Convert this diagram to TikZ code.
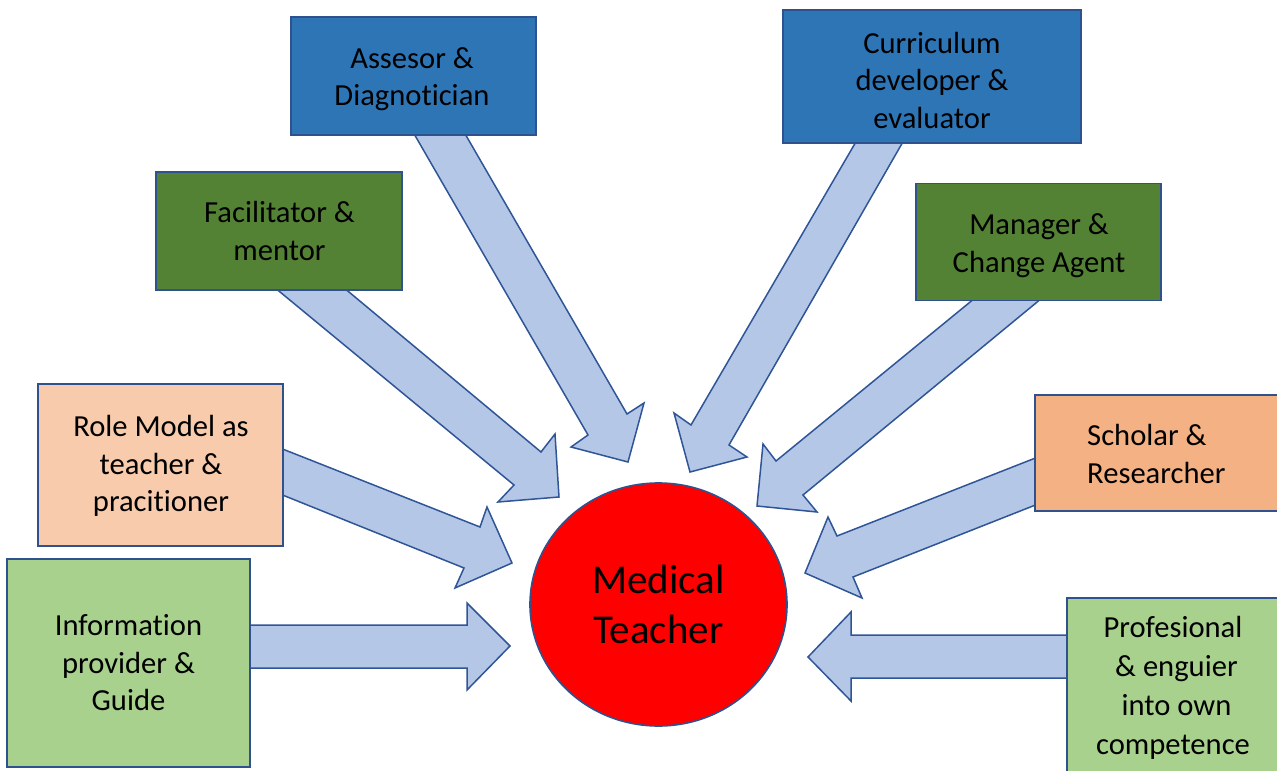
\documentclass[tikz,border=0pt]{standalone}
\usepackage{fontspec}
\setmainfont{Carlito}[Ligatures=NoCommon]
\usetikzlibrary{shapes.geometric}
\definecolor{boxblue}{HTML}{2E75B6}
\definecolor{boxgreen}{HTML}{548235}
\definecolor{boxpeach}{HTML}{F8CBAD}
\definecolor{boxorange}{HTML}{F4B183}
\definecolor{boxlight}{HTML}{A9D18E}
\definecolor{arrowfill}{HTML}{B4C7E7}
\definecolor{edgeblue}{HTML}{2F528F}
\definecolor{arrowedge}{HTML}{2F5597}
\tikzset{
  rolebox/.style={draw=edgeblue, line width=1.6bp, inner sep=0pt, outer sep=0pt},
  roletext/.style={inner sep=0pt, align=center, font=\fontsize{30.6bp}{37.5bp}\selectfont},
  blockarrow/.style={draw=arrowedge, fill=arrowfill, line width=1.5bp, line join=miter},
}
\begin{document}
\begin{tikzpicture}[x=1bp, y=-1bp]
\useasboundingbox (0,0) rectangle (1277,771);
% block arrows
\draw[blockarrow] (413,132) -- (588,435) -- (571,447) -- (628,462) -- (644,403) -- (627,414) -- (464,132) -- cycle;
\draw[blockarrow] (274,287) -- (514,485) -- (498,502) -- (559,497) -- (555,434) -- (541,452) -- (343,287) -- cycle;
\draw[blockarrow] (280,448) -- (480,527) -- (487,507) -- (512,563) -- (455,588) -- (464,568) -- (280,494) -- cycle;
\draw[blockarrow] (247,625) -- (467,625) -- (467,603) -- (510,646) -- (467,690) -- (467,668) -- (247,668) -- cycle;
\draw[blockarrow] (857,140) -- (691,425) -- (674,413) -- (690,472) -- (747,457) -- (729,445) -- (904,140) -- cycle;
\draw[blockarrow] (975,298) -- (776,461) -- (763,444) -- (757,506) -- (817,512) -- (803,495) -- (1042,298) -- cycle;
\draw[blockarrow] (1038,457) -- (837,536) -- (828,517) -- (805,573) -- (862,598) -- (853,577) -- (1038,504) -- cycle;
\draw[blockarrow] (1070,635) -- (851,635) -- (851,612) -- (808,657) -- (851,701) -- (851,678) -- (1070,678) -- cycle;
% boxes
\node[rolebox, fill=boxblue, minimum width=245bp, minimum height=118bp] (assess) at (413.5,76) {};
\node[roletext] (assesstext) at (412,79) {Assesor \&\\Diagnotician};
\node[rolebox, fill=boxblue, minimum width=298bp, minimum height=133bp] (curr) at (932,76.5) {};
\node[roletext] (currtext) at (932,80) {Curriculum\\developer \&\\evaluator};
\node[rolebox, fill=boxgreen, minimum width=246bp, minimum height=118bp] (facil) at (279,231) {};
\node[roletext] (faciltext) at (279.5,231) {Facilitator \&\\mentor};
\node[rolebox, fill=boxgreen, minimum width=245bp, minimum height=117bp] (manag) at (1038.5,242) {};
\node[roletext] (managtext) at (1039,245.5) {Manager \&\\Change Agent};
\node[rolebox, fill=boxpeach, minimum width=245bp, minimum height=162bp] (role) at (160.5,465) {};
\node[roletext] (roletext) at (161,466) {Role Model as\\teacher \&\\pracitioner};
\node[rolebox, fill=boxlight, minimum width=243bp, minimum height=208bp] (info) at (128.5,663) {};
\node[roletext] (infotext) at (128.5,663) {Information\\provider \&\\Guide};
\node[rolebox, fill=boxorange, minimum width=255bp, minimum height=116bp] (schol) at (1162.5,453) {};
\node[roletext, align=left, anchor=west] (scholtext) at (1087,454) {Scholar \&\\Researcher};
\node[rolebox, fill=boxlight, minimum width=230bp, minimum height=200bp] (prof) at (1182,698) {};
\node[roletext, font=\fontsize{30.6bp}{39bp}\selectfont] (proftext) at (1173,688) {Profesional\\\ \& enguier\\\ into own\\competence};
% centre
\node[ellipse, draw=edgeblue, fill=red, line width=1.6bp, minimum width=257bp, minimum height=243bp, inner sep=0pt, align=center,
  font=\fontsize{41bp}{50bp}\selectfont] (mt) at (658.5,604.5) {Medical\\Teacher};
\end{tikzpicture}
\end{document}
